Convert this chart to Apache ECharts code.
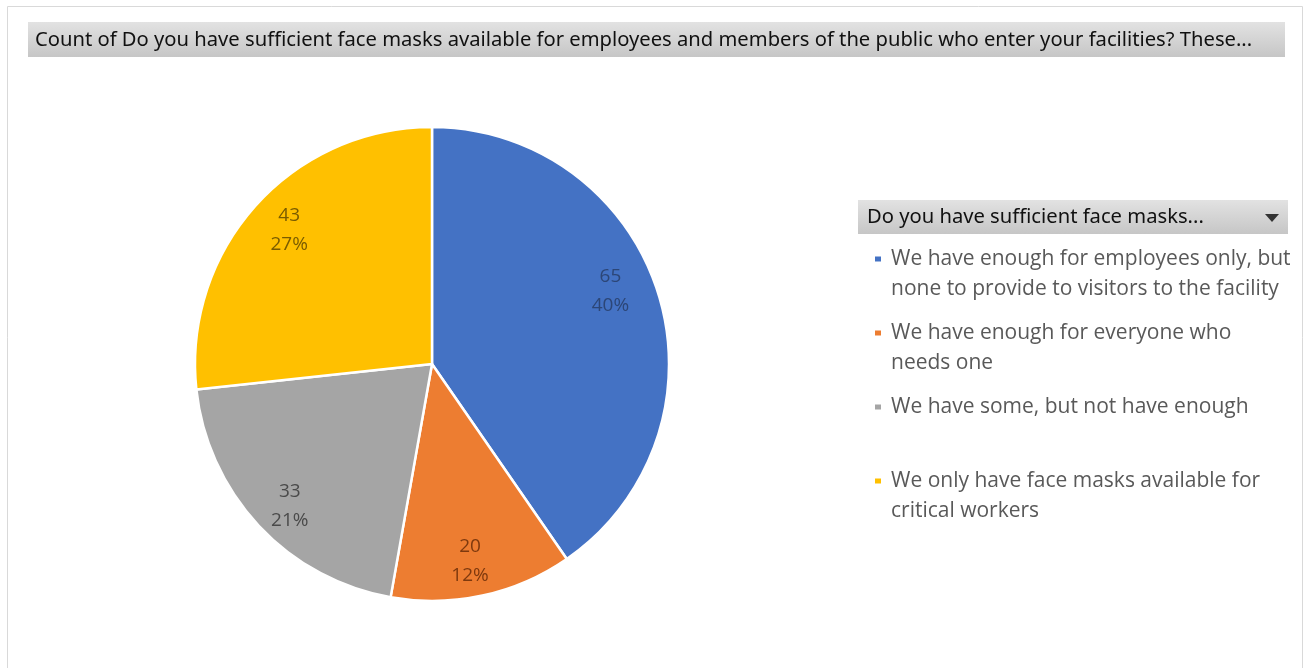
<!DOCTYPE html>
<html><head><meta charset="utf-8">
<script src="https://cdn.jsdelivr.net/npm/echarts@6/dist/echarts.min.js"></script>
<style>html,body{margin:0;padding:0;background:#fff}#c{width:1307px;height:668px}</style>
</head><body><div id="c"></div>
<script>
const categories = [
  'We have enough for employees only, but none to provide to visitors to the facility',
  'We have enough for everyone who needs one',
  'We have some, but not have enough',
  'We only have face masks available for critical workers'
];
const counts = [65, 20, 33, 43];
const sliceColors = ['#4472C4', '#ED7D31', '#A5A5A5', '#FFC000'];
const labelColors = ['#2C4677', '#7E390E', '#4A4A4A', '#7A5C00'];
const labelOffsets = [[-10, -14], [-4, 4], [2, 7], [4, -2]];
const legendLines = [
  ['We have enough for employees only, but', 'none to provide to visitors to the facility'],
  ['We have enough for everyone who', 'needs one'],
  ['We have some, but not have enough', ' '],
  ['We only have face masks available for', 'critical workers']
];
const titleText = 'Count of Do you have sufficient face masks available for employees and members of the public who enter your facilities? These...';
const legendTitle = 'Do you have sufficient face masks...';

const R = 237;
const center = [432, 364];
const mkGrad = () => new echarts.graphic.LinearGradient(0, 0, 0, 1, [
  {offset: 0, color: '#e2e2e2'}, {offset: 1, color: '#c6c6c6'}
]);

const chart = echarts.init(document.getElementById('c'), null, {renderer: 'canvas'});
const pieData = categories.map((n, i) => ({name: n, value: counts[i], itemStyle: {color: sliceColors[i]}}));
const labelData = categories.map((n, i) => ({
  name: n, value: counts[i],
  itemStyle: {color: 'rgba(0,0,0,0)', borderWidth: 0},
  label: {color: labelColors[i], offset: labelOffsets[i]}
}));

chart.setOption({
  animation: false,
  color: sliceColors,
  graphic: [
    {type: 'rect', shape: {x: 7.5, y: 6.5, width: 1295, height: 700}, style: {fill: 'none', stroke: '#d9d9d9', lineWidth: 1}, silent: true},
    {type: 'rect', shape: {x: 28, y: 22, width: 1257, height: 35}, style: {fill: mkGrad()}, silent: true},
    {type: 'text', x: 35, y: 40, style: {text: titleText, font: '20.2px "Noto Sans"', fill: '#111', verticalAlign: 'middle'}, silent: true},
    {type: 'rect', shape: {x: 858, y: 200, width: 430, height: 34}, style: {fill: mkGrad()}, silent: true},
    {type: 'text', x: 867, y: 217, style: {text: legendTitle, font: '20.2px "Noto Sans"', fill: '#111', verticalAlign: 'middle'}, silent: true},
    {type: 'polygon', shape: {points: [[1265, 214], [1279, 214], [1272, 222]]}, style: {fill: '#333'}, silent: true}
  ],
  legend: {
    orient: 'vertical',
    left: 873,
    top: 214,
    padding: 0,
    itemGap: -16,
    itemWidth: 8,
    itemHeight: 7,
    icon: 'rect',
    selectedMode: false,
    data: categories,
    formatter: function (name) {
      const i = categories.indexOf(name);
      return ' \n' + legendLines[i].join('\n');
    },
    textStyle: {
      fontFamily: 'Open Sans',
      fontSize: 21,
      lineHeight: 30,
      color: '#595959',
      padding: [0, 0, 0, 4]
    }
  },
  series: [
    {
      type: 'pie',
      center: center,
      radius: [0, R],
      startAngle: 90,
      clockwise: true,
      label: {show: false},
      labelLine: {show: false},
      itemStyle: {borderColor: '#ffffff', borderWidth: 2.5},
      emphasis: {disabled: true},
      data: pieData
    },
    {
      type: 'pie',
      center: center,
      radius: [R * 0.64, R],
      startAngle: 90,
      clockwise: true,
      silent: true,
      percentPrecision: 0,
      label: {
        show: true,
        position: 'inside',
        formatter: '{c}\n{d}%',
        fontFamily: 'Open Sans',
        fontSize: 19,
        lineHeight: 29
      },
      labelLine: {show: false},
      emphasis: {disabled: true},
      data: labelData
    }
  ]
});
</script></body></html>
